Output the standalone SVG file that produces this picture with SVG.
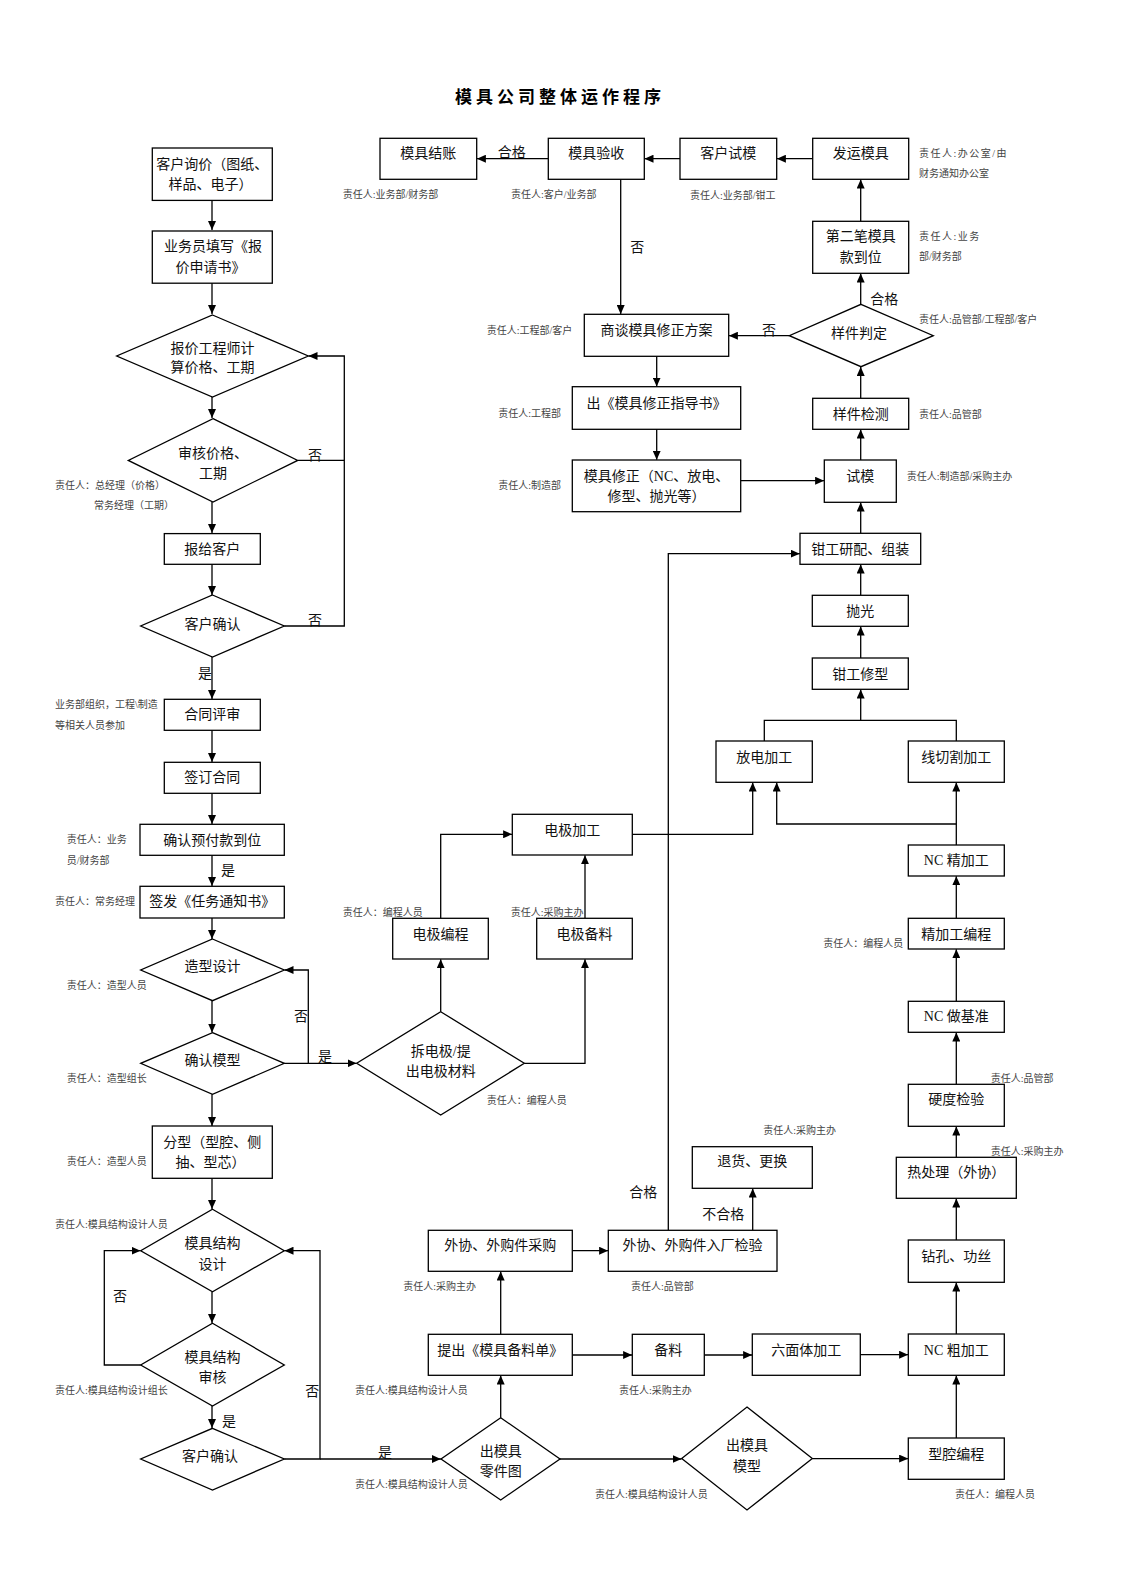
<svg xmlns="http://www.w3.org/2000/svg" width="1122" height="1587" viewBox="0 0 1122 1587">
<style>
.b{fill:#fff;stroke:#000;stroke-width:1.3}
.t{font-family:"Liberation Serif","Noto Sans CJK SC",serif;font-size:14px;fill:#111;text-anchor:middle;dominant-baseline:central}
.l{font-family:"Liberation Serif","Noto Sans CJK SC",serif;font-size:10px;fill:#444;dominant-baseline:central}
.c{fill:none;stroke:#000;stroke-width:1.3}
.a{fill:none;stroke:#000;stroke-width:1.3;marker-end:url(#ar)}
.title{font-family:"Liberation Sans","Noto Sans CJK SC",sans-serif;font-size:17px;font-weight:bold;fill:#000;letter-spacing:4px;dominant-baseline:central}
</style>
<defs>
<marker id="ar" markerWidth="9" markerHeight="8" refX="9" refY="4" orient="auto" markerUnits="userSpaceOnUse"><path d="M0,0 L9,4 L0,8 z" fill="#000"/></marker>
</defs>
<rect width="1122" height="1587" fill="#fff"/>
<text class="title" x="455" y="97">模具公司整体运作程序</text>

<g id="connectors">
<path class="a" d="M212,200 V230"/>
<path class="a" d="M212,283 V314"/>
<path class="a" d="M212,397 V418"/>
<path class="a" d="M212,502 V533"/>
<path class="a" d="M212,564 V595"/>
<path class="c" d="M297.7,460.4 H344.3"/>
<path class="a" d="M284.3,626 H344.3 V356 H308.5"/>
<path class="a" d="M212,657 V699"/>
<path class="a" d="M212,730 V762"/>
<path class="a" d="M212,793 V824"/>
<path class="a" d="M212,855 V886"/>
<path class="a" d="M212,918 V939"/>
<path class="a" d="M212,1001 V1032.5"/>
<path class="a" d="M284.3,1063.3 H308.3 V970 H284.5"/>
<path class="a" d="M308.3,1063.3 H356.5"/>
<path class="a" d="M212,1094.3 V1126"/>
<path class="a" d="M212,1178.3 V1209"/>
<path class="a" d="M212,1291.7 V1323"/>
<path class="a" d="M140.7,1365 H104.3 V1250.7 H140.5"/>
<path class="a" d="M212,1406 V1428"/>
<path class="a" d="M284.3,1459 H320 V1250.7 H284.5"/>
<path class="a" d="M320,1459 H440.8"/>
<path class="a" d="M440.7,1011.7 V959.2"/>
<path class="a" d="M524.3,1063.3 H585 V959.2"/>
<path class="a" d="M440.7,918.3 V834.3 H512.1"/>
<path class="a" d="M585,918.3 V855.2"/>
<path class="a" d="M632.3,834.3 H752.7 V782.5"/>
<path class="c" d="M764.3,741 V720.3 H956.3 V741"/>
<path class="a" d="M860.7,720.3 V689.5"/>
<path class="a" d="M860.7,658 V626.5"/>
<path class="a" d="M860.7,595.3 V564.5"/>
<path class="a" d="M860.7,533.3 V502.5"/>
<path class="a" d="M860.7,460 V429.5"/>
<path class="a" d="M860.7,398.3 V366.9"/>
<path class="a" d="M860.7,304.3 V273.5"/>
<path class="a" d="M789.3,335.7 H728.9"/>
<path class="a" d="M860.7,221.3 V179.5"/>
<path class="a" d="M812.7,158.7 H776.9"/>
<path class="a" d="M680,158.7 H644.5"/>
<path class="a" d="M548.3,158.7 H476.9"/>
<path class="a" d="M620.7,179.3 V314.1"/>
<path class="a" d="M656.7,356.3 V386.5"/>
<path class="a" d="M656.7,429.3 V459.8"/>
<path class="a" d="M740.7,480.7 H824.1"/>
<path class="a" d="M956.3,845 V782.5"/>
<path class="a" d="M956.3,824 H776.7 V782.5"/>
<path class="a" d="M956.3,918.3 V876.2"/>
<path class="a" d="M956.3,1001.3 V949.2"/>
<path class="a" d="M956.3,1084.3 V1032.5"/>
<path class="a" d="M956.3,1157.3 V1126.5"/>
<path class="a" d="M956.3,1240 V1198.5"/>
<path class="a" d="M956.3,1334 V1282.5"/>
<path class="a" d="M956.3,1438 V1375.5"/>
<path class="a" d="M860.3,1354.7 H908.1"/>
<path class="a" d="M704.3,1355 H752.1"/>
<path class="a" d="M572.3,1355 H632.1"/>
<path class="a" d="M500.7,1417.7 V1375.5"/>
<path class="a" d="M560,1459 H681.5"/>
<path class="a" d="M812.3,1458.6 H908.1"/>
<path class="a" d="M500.7,1334.3 V1271.5"/>
<path class="a" d="M572.3,1250.7 H608.1"/>
<path class="a" d="M668.3,1230.3 V553.7 H799.8"/>
<path class="a" d="M752.7,1230.3 V1188.5"/>
</g>

<g id="edge-labels">
<text class="t" x="315" y="455">否</text>
<text class="t" x="315" y="620">否</text>
<text class="t" x="205" y="673">是</text>
<text class="t" x="228" y="870">是</text>
<text class="t" x="301" y="1016">否</text>
<text class="t" x="325" y="1056.7">是</text>
<text class="t" x="120" y="1296.7">否</text>
<text class="t" x="229" y="1421.7">是</text>
<text class="t" x="312.3" y="1391.7">否</text>
<text class="t" x="385" y="1452.3">是</text>
<text class="t" x="511.7" y="152.5">合格</text>
<text class="t" x="637.3" y="247.7">否</text>
<text class="t" x="884.3" y="299.3">合格</text>
<text class="t" x="769" y="330">否</text>
<text class="t" x="643.3" y="1192.7">合格</text>
<text class="t" x="723.3" y="1214.3">不合格</text>
</g>

<g id="n1"><rect class="b" x="152.3" y="148" width="120" height="52.4"/><text class="t" x="212.3" y="164.6">客户询价（图纸、</text><text class="t" x="210.5" y="184.6">样品、电子）</text></g>
<g id="n2"><rect class="b" x="152.3" y="231" width="120" height="52.2"/><text class="t" x="213" y="246.8">业务员填写《报</text><text class="t" x="210.5" y="267.5">价申请书》</text></g>
<g id="n3"><polygon class="b" points="212.5,315 308.3,356 212.5,397 116.7,356"/><text class="t" x="212.5" y="348.6">报价工程师计</text><text class="t" x="212.5" y="367.5">算价格、工期</text></g>
<g id="n4"><polygon class="b" points="213,418.6 297.7,460.4 213,502 128.3,460.4"/><text class="t" x="213" y="453">审核价格、</text><text class="t" x="213" y="473">工期</text></g>
<g id="n5"><rect class="b" x="164.3" y="533.6" width="96" height="30.7"/><text class="t" x="212.3" y="549">报给客户</text></g>
<g id="n6"><polygon class="b" points="212.5,595 284.3,626 212.5,657 140.7,626"/><text class="t" x="212.5" y="624.6">客户确认</text></g>
<g id="n7"><rect class="b" x="164.3" y="699.3" width="96" height="31"/><text class="t" x="212.3" y="714.5">合同评审</text></g>
<g id="n8"><rect class="b" x="164.3" y="762.3" width="96" height="31"/><text class="t" x="212.3" y="777.8">签订合同</text></g>
<g id="n9"><rect class="b" x="140" y="824.3" width="144.3" height="31"/><text class="t" x="212.3" y="840">确认预付款到位</text></g>
<g id="n10"><rect class="b" x="140" y="886.3" width="144.3" height="31.7"/><text class="t" x="212.3" y="901.7">签发《任务通知书》</text></g>
<g id="n11"><polygon class="b" points="212.5,939 284.3,970 212.5,1000.7 140.7,970"/><text class="t" x="212.5" y="966.7">造型设计</text></g>
<g id="n12"><polygon class="b" points="212.5,1032.7 284.3,1063.3 212.5,1094.3 140.7,1063.3"/><text class="t" x="212.5" y="1060.7">确认模型</text></g>
<g id="n13"><rect class="b" x="152.3" y="1126" width="120" height="52.3"/><text class="t" x="212.3" y="1142.7">分型（型腔、侧</text><text class="t" x="210.5" y="1162.3">抽、型芯）</text></g>
<g id="n14"><polygon class="b" points="212.5,1209.3 284.3,1250.7 212.5,1291.7 140.7,1250.7"/><text class="t" x="212.5" y="1243.3">模具结构</text><text class="t" x="212.5" y="1264">设计</text></g>
<g id="n15"><polygon class="b" points="212.5,1323.3 284.3,1365 212.5,1406 140.7,1365"/><text class="t" x="212.5" y="1357">模具结构</text><text class="t" x="212.5" y="1377.3">审核</text></g>
<g id="n16"><polygon class="b" points="212.5,1428.3 284.3,1459 212.5,1490 140.7,1459"/><text class="t" x="210" y="1456.7">客户确认</text></g>

<g id="n17"><polygon class="b" points="440.7,1011.7 524.3,1063.3 440.7,1115 356.7,1063.3"/><text class="t" x="440.7" y="1051.7">拆电极/提</text><text class="t" x="440.7" y="1071.7">出电极材料</text></g>
<g id="n18"><rect class="b" x="392.7" y="918.3" width="95.6" height="40.7"/><text class="t" x="440.5" y="934">电极编程</text></g>
<g id="n19"><rect class="b" x="536.7" y="918.3" width="95.6" height="40.7"/><text class="t" x="584.5" y="934">电极备料</text></g>
<g id="n20"><rect class="b" x="512.3" y="814.3" width="120" height="40.7"/><text class="t" x="572.3" y="830">电极加工</text></g>

<g id="n21"><rect class="b" x="716" y="741" width="96.3" height="41.3"/><text class="t" x="764.2" y="757.3">放电加工</text></g>
<g id="n22"><rect class="b" x="908.3" y="741" width="96" height="41.3"/><text class="t" x="956.3" y="757.3">线切割加工</text></g>
<g id="n23"><rect class="b" x="812.3" y="658" width="96" height="31.3"/><text class="t" x="860.3" y="674">钳工修型</text></g>
<g id="n24"><rect class="b" x="812.3" y="595.3" width="96" height="31"/><text class="t" x="860.3" y="611">抛光</text></g>
<g id="n25"><rect class="b" x="800" y="533.3" width="120.7" height="31"/><text class="t" x="860.3" y="549">钳工研配、组装</text></g>
<g id="n26"><rect class="b" x="824.3" y="460" width="72" height="42.3"/><text class="t" x="860.3" y="476">试模</text></g>
<g id="n27"><rect class="b" x="812.7" y="398.3" width="96" height="31"/><text class="t" x="860.7" y="414">样件检测</text></g>
<g id="n28"><polygon class="b" points="861,304.3 933.3,335.7 861,366.7 789.3,335.7"/><text class="t" x="859" y="333.3">样件判定</text></g>
<g id="n29"><rect class="b" x="812.7" y="221.3" width="96" height="52"/><text class="t" x="860.7" y="236.7">第二笔模具</text><text class="t" x="860.7" y="257.3">款到位</text></g>
<g id="n30"><rect class="b" x="812.7" y="138.3" width="96" height="41"/><text class="t" x="860.7" y="153.3">发运模具</text></g>
<g id="n31"><rect class="b" x="680" y="138.3" width="96.7" height="41"/><text class="t" x="728.3" y="153.3">客户试模</text></g>
<g id="n32"><rect class="b" x="548.3" y="138.3" width="96" height="41"/><text class="t" x="596.3" y="153.3">模具验收</text></g>
<g id="n33"><rect class="b" x="380" y="138.3" width="96.7" height="41"/><text class="t" x="428.3" y="153.3">模具结账</text></g>
<g id="n34"><rect class="b" x="584.3" y="314.3" width="144.4" height="42"/><text class="t" x="656.5" y="330">商谈模具修正方案</text></g>
<g id="n35"><rect class="b" x="572.3" y="386.7" width="168.4" height="42.6"/><text class="t" x="656.5" y="403.3">出《模具修正指导书》</text></g>
<g id="n36"><rect class="b" x="572.3" y="460" width="168.4" height="51.7"/><text class="t" x="656.5" y="476">模具修正（NC、放电、</text><text class="t" x="656.5" y="496.7">修型、抛光等）</text></g>

<g id="n37"><rect class="b" x="908.3" y="845" width="96" height="31"/><text class="t" x="956.3" y="860.7">NC 精加工</text></g>
<g id="n38"><rect class="b" x="908.3" y="918.3" width="96" height="30.7"/><text class="t" x="956.3" y="934">精加工编程</text></g>
<g id="n39"><rect class="b" x="908.3" y="1001.3" width="96" height="31"/><text class="t" x="956.3" y="1016.2">NC 做基准</text></g>
<g id="n40"><rect class="b" x="908.3" y="1084.3" width="96" height="42"/><text class="t" x="956.3" y="1099.8">硬度检验</text></g>
<g id="n41"><rect class="b" x="896.3" y="1157.3" width="120" height="41"/><text class="t" x="956.3" y="1172.8">热处理（外协）</text></g>
<g id="n42"><rect class="b" x="908.3" y="1240" width="96" height="42.3"/><text class="t" x="956.3" y="1256.5">钻孔、功丝</text></g>
<g id="n43"><rect class="b" x="908.3" y="1334" width="96" height="41.3"/><text class="t" x="956.3" y="1350">NC 粗加工</text></g>
<g id="n44"><rect class="b" x="908.3" y="1438" width="96" height="41.3"/><text class="t" x="956.3" y="1454.5">型腔编程</text></g>
<g id="n45"><rect class="b" x="752.3" y="1334" width="108" height="41.3"/><text class="t" x="806.3" y="1350">六面体加工</text></g>
<g id="n46"><rect class="b" x="632.3" y="1334.3" width="72" height="41"/><text class="t" x="668.3" y="1350">备料</text></g>
<g id="n47"><rect class="b" x="428.3" y="1334.3" width="144" height="41"/><text class="t" x="500.3" y="1350">提出《模具备料单》</text></g>
<g id="n48"><polygon class="b" points="500.7,1417.7 560,1459 500.7,1500 441,1459"/><text class="t" x="500.7" y="1451">出模具</text><text class="t" x="500.7" y="1471">零件图</text></g>
<g id="n49"><polygon class="b" points="747,1407 812.3,1458.6 747,1510 681.7,1458.6"/><text class="t" x="747" y="1445">出模具</text><text class="t" x="747" y="1466">模型</text></g>
<g id="n50"><rect class="b" x="428.3" y="1230.3" width="144" height="41"/><text class="t" x="500.3" y="1245.7">外协、外购件采购</text></g>
<g id="n51"><rect class="b" x="608.3" y="1230.3" width="168.7" height="41"/><text class="t" x="692.6" y="1245.7">外协、外购件入厂检验</text></g>
<g id="n52"><rect class="b" x="692.3" y="1146.7" width="120" height="41.6"/><text class="t" x="752.3" y="1161.7">退货、更换</text></g>

<g id="responsibility-labels">
<text class="l" x="342.7" y="194.3">责任人:业务部/财务部</text>
<text class="l" x="511" y="194.3">责任人:客户/业务部</text>
<text class="l" x="690" y="195">责任人:业务部/钳工</text>
<text class="l" x="919" y="153.3" letter-spacing="1.5">责任人:办公室/由</text>
<text class="l" x="919" y="173.3">财务通知办公室</text>
<text class="l" x="919" y="236.7" letter-spacing="1.5">责任人:业务</text>
<text class="l" x="919" y="256.7">部/财务部</text>
<text class="l" x="919" y="319.3">责任人:品管部/工程部/客户</text>
<text class="l" x="919" y="414">责任人:品管部</text>
<text class="l" x="906.7" y="476">责任人:制造部/采购主办</text>
<text class="l" x="486.7" y="330">责任人:工程部/客户</text>
<text class="l" x="498.3" y="413.3">责任人:工程部</text>
<text class="l" x="498.3" y="485">责任人:制造部</text>
<text class="l" x="55" y="485">责任人：总经理（价格）</text>
<text class="l" x="94" y="505">常务经理（工期）</text>
<text class="l" x="55" y="704.3">业务部组织，工程\制造</text>
<text class="l" x="55" y="725">等相关人员参加</text>
<text class="l" x="66.7" y="839.3">责任人：业务</text>
<text class="l" x="66.7" y="860">员/财务部</text>
<text class="l" x="55" y="901.7">责任人：常务经理</text>
<text class="l" x="66.7" y="985">责任人：造型人员</text>
<text class="l" x="66.7" y="1078.3">责任人：造型组长</text>
<text class="l" x="66.7" y="1161.7">责任人：造型人员</text>
<text class="l" x="55" y="1224.3">责任人:模具结构设计人员</text>
<text class="l" x="55" y="1390">责任人:模具结构设计组长</text>
<text class="l" x="342.7" y="912.3">责任人：编程人员</text>
<text class="l" x="510.7" y="912.3">责任人:采购主办</text>
<text class="l" x="486.7" y="1100">责任人：编程人员</text>
<text class="l" x="763.3" y="1130.7">责任人:采购主办</text>
<text class="l" x="403.3" y="1286.7">责任人:采购主办</text>
<text class="l" x="631" y="1286.7">责任人:品管部</text>
<text class="l" x="355" y="1390">责任人:模具结构设计人员</text>
<text class="l" x="619" y="1390.7">责任人:采购主办</text>
<text class="l" x="355" y="1484.3">责任人:模具结构设计人员</text>
<text class="l" x="595" y="1494.3">责任人:模具结构设计人员</text>
<text class="l" x="955" y="1494.8">责任人：编程人员</text>
<text class="l" x="823.3" y="943.3">责任人：编程人员</text>
<text class="l" x="990.7" y="1078.5">责任人:品管部</text>
<text class="l" x="990.7" y="1151">责任人:采购主办</text>
</g>
</svg>
